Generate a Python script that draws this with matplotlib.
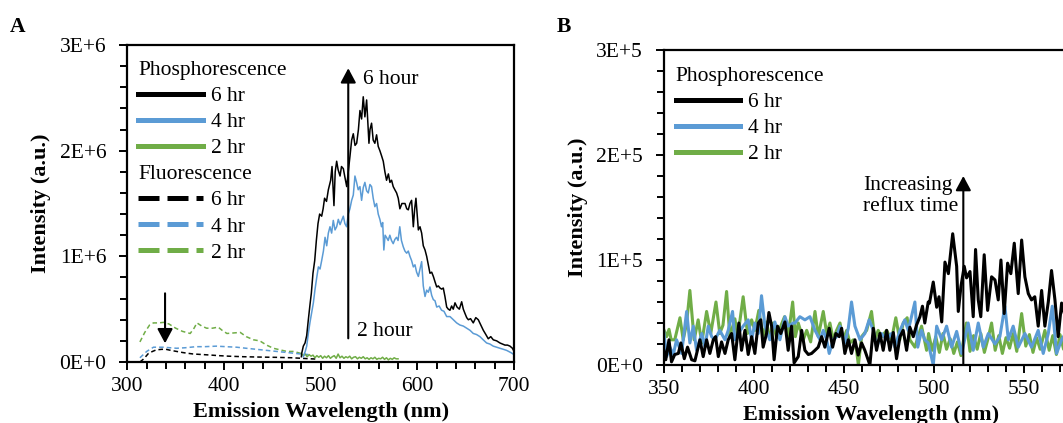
import matplotlib as mpl
mpl.use('Agg')
import matplotlib.pyplot as plt
from matplotlib.lines import Line2D
from matplotlib.ticker import MultipleLocator, FuncFormatter, FixedLocator

mpl.rcParams['font.family'] = 'Liberation Serif'
FS = 15.5

black = 'black'
blue = '#5B9BD5'
green = '#70AD47'

# ---------------- panel A: phosphorescence (solid) ----------------
a6_x = [480, 480.3, 482, 483.8, 485.5, 487.2, 489, 490.3, 492, 493.8, 495.5, 497.2, 498.9, 501, 502.5, 504, 506,
        507.9, 510.3, 511.7, 513.7, 515, 516.5, 518, 520, 521.5, 523.4, 525, 526.9, 528.5, 530.3, 532, 533.7, 535.5,
        537.2, 539, 540.6, 542.3, 544, 545.7, 547.5, 549.9, 551, 552.6, 554.3, 556, 557.8, 559.5, 561.2, 563, 564.7,
        566.4, 568.1, 570, 571.6, 573.3, 575, 576.7, 578.5, 580.2, 581.9, 584, 587.2, 589, 590.6, 592.3, 594, 595.8,
        597.2, 598.5, 601, 602.7, 604.4, 606.1, 607.9, 609.6, 611.3, 613, 614.8, 616.5, 618.2, 620, 621.7, 623.4,
        625.1, 626.8, 628.5, 630.3, 632, 633.7, 635.4, 637.1, 638.9, 641, 643.4, 645.8, 647.5, 649.2, 651, 652.7, 655,
        657.8, 660.4, 663, 665.6, 668.2, 670.8, 673.3, 675.9, 678.5, 682, 685.4, 688, 690.6, 693.2, 695.8, 698.3, 700]
a6_y = [0.05, 0.08, 0.15, 0.18, 0.25, 0.40, 0.55, 0.65, 0.84, 0.96, 1.15, 1.31, 1.40, 1.38, 1.45, 1.55, 1.52,
        1.63, 1.72, 1.85, 1.48, 1.80, 1.90, 1.82, 1.76, 1.85, 1.83, 1.75, 1.66, 1.80, 1.95, 2.10, 2.16, 2.05,
        2.07, 2.20, 2.38, 2.30, 2.51, 2.32, 2.48, 2.07, 2.20, 2.26, 2.10, 2.07, 2.15, 2.04, 2.00, 1.95, 1.90,
        1.80, 1.72, 1.78, 1.70, 1.72, 1.66, 1.63, 1.60, 1.55, 1.45, 1.50, 1.50, 1.45, 1.44, 1.50, 1.53, 1.28,
        1.45, 1.55, 1.25, 1.28, 1.22, 1.10, 1.06, 1.00, 0.92, 0.84, 0.85, 0.81, 0.76, 0.71, 0.72, 0.70,
        0.69, 0.70, 0.62, 0.52, 0.50, 0.49, 0.53, 0.50, 0.56, 0.52, 0.50, 0.57, 0.50, 0.46, 0.42, 0.40, 0.41,
        0.37, 0.42, 0.40, 0.35, 0.30, 0.26, 0.22, 0.24, 0.21, 0.20, 0.18, 0.17, 0.16, 0.16, 0.15, 0.13, 0.10]

a4_x = [482, 484, 485.5, 487.2, 489, 490.7, 492.4, 494, 495.9, 497.6, 499.3, 501, 502.8, 504.5, 506.2, 507.9, 509.6,
        511.3, 513, 514.8, 516.5, 518.2, 520, 521.7, 523.4, 525, 526.8, 528.5, 530.2, 532, 533.7, 535.4, 537.1,
        538.8, 540.6, 542.3, 544, 545.7, 547.5, 549.2, 550.9, 552.6, 554.3, 556, 557.8, 559.5, 561.2, 562.9, 564.1,
        565.3, 566.6, 568, 569.8, 571.5, 573.2, 575, 576.7, 578.4, 580, 581.8, 583.5, 585.4, 587.1, 588.9, 590.6,
        592.3, 594, 595.8, 597.5, 599.2, 601, 602.7, 604.4, 606.1, 607.9, 609.6, 611.3, 613, 614.8, 616.5, 618.2,
        620, 622.5, 625, 627.5, 630.3, 633.7, 637.2, 640.6, 644, 647.5, 651, 654.4, 657.8, 661.2, 664.7, 668.1,
        671.6, 675, 678.5, 682, 685.4, 689, 692.3, 696.5, 700]
a4_y = [0.05, 0.10, 0.15, 0.27, 0.38, 0.47, 0.56, 0.68, 0.80, 0.90, 0.88, 0.96, 1.05, 1.18, 1.10, 1.22, 1.28,
        1.22, 1.34, 1.25, 1.28, 1.35, 1.30, 1.34, 1.38, 1.31, 1.28, 1.40, 1.45, 1.53, 1.58, 1.76, 1.70,
        1.63, 1.66, 1.53, 1.65, 1.70, 1.62, 1.60, 1.68, 1.66, 1.55, 1.47, 1.50, 1.40, 1.35, 1.28, 1.32,
        1.06, 1.20, 1.18, 1.15, 1.20, 1.15, 1.12, 1.16, 1.18, 1.15, 1.28, 1.15, 1.09, 1.05, 1.03, 1.05,
        1.00, 0.96, 0.90, 0.92, 0.85, 0.81, 0.88, 0.95, 0.72, 0.62, 0.68, 0.66, 0.71, 0.63, 0.59, 0.58,
        0.52, 0.53, 0.49, 0.48, 0.43, 0.43, 0.40, 0.37, 0.35, 0.34, 0.32, 0.30, 0.27, 0.26, 0.24, 0.21,
        0.18, 0.17, 0.15, 0.14, 0.13, 0.12, 0.11, 0.09, 0.07]

a2_x = list(range(480, 582, 2))
a2_y = [0.08, 0.06, 0.075, 0.05, 0.07, 0.055, 0.065, 0.04, 0.06, 0.045, 0.06, 0.035, 0.055, 0.04, 0.06, 0.035,
        0.05, 0.06, 0.035, 0.075, 0.04, 0.055, 0.035, 0.05, 0.04, 0.055, 0.03, 0.045, 0.05, 0.03, 0.045, 0.035,
        0.05, 0.03, 0.04, 0.025, 0.04, 0.03, 0.045, 0.025, 0.035, 0.03, 0.045, 0.025, 0.04, 0.02, 0.035, 0.025,
        0.04, 0.03, 0.03]

# ---------------- panel A: fluorescence (dashed) ----------------
f6_x = [313, 317, 321.7, 326, 330, 335.6, 340, 345, 351, 357, 362, 368, 375, 385.5, 395, 405, 420, 435, 454.5,
        470, 480.3, 490, 496]
f6_y = [0.0, 0.03, 0.08, 0.10, 0.115, 0.12, 0.12, 0.11, 0.10, 0.09, 0.083, 0.076, 0.072, 0.066, 0.06, 0.055,
        0.05, 0.047, 0.044, 0.04, 0.035, 0.03, 0.028]
f4_x = [313, 320, 327, 337, 344, 351, 360, 371, 380, 392, 402, 413, 423, 433.6, 444, 454.5, 465, 475, 480, 488]
f4_y = [0.04, 0.10, 0.14, 0.14, 0.135, 0.13, 0.135, 0.145, 0.145, 0.15, 0.145, 0.14, 0.13, 0.12, 0.11, 0.10,
        0.09, 0.08, 0.075, 0.07]
f2_x = [313, 318, 323, 327, 332, 337.6, 343, 350, 357, 365, 369, 372, 377, 382, 388, 394, 398, 403, 410, 416.8,
        423, 430.5, 437, 444, 451, 458, 465, 472, 480]
f2_y = [0.19, 0.28, 0.35, 0.37, 0.37, 0.375, 0.36, 0.32, 0.29, 0.27, 0.32, 0.37, 0.34, 0.32, 0.32, 0.33, 0.30,
        0.27, 0.275, 0.28, 0.24, 0.21, 0.20, 0.16, 0.13, 0.115, 0.10, 0.10, 0.08]

# ---------------- panel B: phosphorescence, x1E4 ----------------
b6_x = [349.6, 351, 352.8, 354.2, 356, 358, 359.4, 361.3, 363.1, 365.4, 367.2, 370, 371.8, 373.7, 375.5, 377.4,
        378.7, 380.2, 382, 383.9, 385.7, 387.6, 389.4, 391.6, 393.1, 395, 396.8, 398.7, 400.5, 402.4, 403.8, 405.1,
        407, 408.3, 409.8, 411.2, 413.1, 414.9, 417.2, 419, 420.9, 422.3, 424.6, 426.5, 428.3, 430.2, 432, 433.9,
        435.7, 437.6, 439.4, 441.8, 443.7, 445.5, 447.4, 448.7, 450.5, 452.4, 454.2, 456.1, 457.9, 459.8, 461.6,
        464.4, 466.3, 468.1, 470, 471.8, 473.7, 475.5, 477.4, 479.2, 481.1, 482.9, 484.8, 486.6, 488.5, 490.3,
        492.2, 493.6, 494.9, 496.8, 497.5, 499.6, 501.5, 502.8, 504.3, 506.1, 508, 510.4, 512.6, 513.5, 515,
        516.8, 518.1, 520, 521.8, 523.1, 524.6, 526, 527.9, 529.8, 532, 533.9, 535.7, 537.2, 539, 540.9, 542.7,
        544.6, 546.8, 548.7, 550.5, 552.4, 554.2, 556, 557.9, 559.8, 561.6, 563.5, 565.3, 567.2, 569, 570.9,
        573, 575, 578]
b6_y = [1.7, 0.5, 2.4, 0.3, 1.0, 1.1, 2.1, 0.6, 1.7, 0.5, 0.4, 2.4, 0.8, 2.4, 1.1, 2.4,
        2.7, 0.8, 2.2, 1.1, 2.4, 3.0, 0.5, 4.0, 1.4, 3.3, 1.0, 2.7, 1.1, 4.0, 4.3, 1.7,
        3.0, 5.0, 3.7, 0.5, 3.7, 3.0, 4.1, 1.4, 3.7, 0.2, 0.8, 3.3, 1.4, 1.0, 1.1, 1.4,
        1.7, 2.7, 1.7, 3.5, 1.7, 3.0, 2.7, 3.5, 1.1, 2.4, 1.1, 2.4, 0.95, 2.1, 1.4,
        0.0, 3.5, 1.4, 3.0, 1.4, 3.3, 1.4, 3.1, 0.6, 2.7, 3.3, 1.4, 3.6, 2.7, 3.8,
        4.6, 5.6, 4.0, 6.0, 5.9, 7.9, 5.5, 6.5, 4.1, 9.8, 8.7, 12.5, 9.4, 5.1, 7.5,
        9.4, 8.3, 8.9, 4.6, 11.0, 6.2, 4.6, 10.5, 5.2, 8.4, 8.1, 6.2, 10.0, 4.9, 9.7, 8.7,
        11.6, 6.8, 11.9, 8.4, 6.8, 6.2, 6.5, 3.7, 7.1, 3.7, 6.0, 9.0, 6.2, 2.7, 5.9,
        4.5, 6.0, 5.0]

b4_x = [349.6, 351.5, 353.3, 355.2, 357, 359.8, 362.6, 364.4, 366.3, 368.1, 371, 372.8, 374.6, 376.5, 378.3, 381,
        383.9, 385.7, 388.1, 389.4, 391.3, 394, 396.8, 398.7, 400.5, 402.4, 404.2, 406.1, 408.8, 411.6, 414.4,
        417.2, 419, 421.8, 422.8, 425.5, 428.3, 431.1, 433.9, 436.7, 438.5, 440.4, 441.8, 444, 445.9, 447.8,
        450.5, 452.4, 454.2, 456.1, 458.9, 461.6, 464, 466.3, 468.1, 470.9, 473.7, 476.4, 478.3, 481.1, 483.8,
        485.7, 487.5, 489.4, 491, 493.1, 494.9, 496.8, 499.6, 501.5, 504.3, 507, 509.8, 512.6, 515.4, 519, 521.8,
        524.6, 527.4, 530.2, 533.9, 536.6, 539.4, 541.3, 544, 546.8, 550.5, 554.2, 557.9, 560.7, 563.5, 565.7,
        568.1, 570.9, 573, 576]
b4_y = [3.6, 0.8, 1.7, 1.0, 2.4, 1.1, 5.1, 2.1, 3.7, 1.4, 3.0, 1.7, 3.7, 2.7, 2.4, 3.3,
        2.4, 3.3, 5.1, 2.4, 3.0, 3.7, 4.3, 2.4, 4.0, 3.0, 6.6, 3.7, 2.4, 4.1, 2.4,
        4.6, 3.7, 4.0, 4.0, 4.6, 4.3, 4.6, 3.3, 2.4, 3.3, 2.4, 1.1, 2.4, 2.7, 3.7,
        2.1, 3.5, 6.0, 3.7, 2.4, 3.0, 4.3, 3.3, 1.7, 3.0, 2.4, 3.0, 1.7, 3.3, 4.3,
        3.3, 4.6, 6.0, 1.7, 3.3, 2.4, 2.1, 0.0, 3.7, 2.4, 3.7, 1.7, 3.2, 1.1, 4.0, 1.4,
        4.0, 1.7, 3.0, 2.0, 2.7, 5.6, 2.4, 3.7, 1.7, 3.0, 1.7, 3.3, 1.1, 3.0, 5.6,
        1.1, 2.4, 3.0, 1.5]

b2_x = [349.6, 351.5, 352.8, 354, 356, 358.9, 360.7, 362.6, 364.4, 366.8, 369, 371, 373.7, 376, 378.9, 381,
        382.8, 384.8, 386.6, 389.4, 391, 394, 396.4, 398.7, 400.5, 402.7, 405, 407, 408.8, 410.7, 412.5, 414.4,
        417, 419, 421.5, 423, 424.6, 427.4, 429.3, 431.5, 433.9, 435.7, 438.5, 440.4, 442.2, 444, 445.9, 447.8,
        449.6, 451.5, 453.3, 455.2, 457, 458, 459.8, 462.6, 465.3, 467.2, 469, 470.9, 473.7, 476.4, 478.8, 481,
        482.9, 485.1, 486.6, 489.4, 491.2, 493.1, 495.9, 497, 499, 501, 503, 505, 507, 509, 511, 513, 515, 518,
        520, 522, 524, 526, 528, 530, 532, 534, 536, 538, 540, 542, 544, 546, 548.7, 551, 553, 555, 557, 559,
        561.6, 564, 566, 568, 570, 572, 575, 578]
b2_y = [3.5, 2.7, 3.4, 2.4, 2.4, 4.5, 2.4, 4.0, 7.1, 2.4, 4.3, 2.1, 5.1, 3.0, 6.0, 3.0,
        3.8, 7.0, 2.7, 4.4, 2.7, 6.5, 3.0, 4.3, 3.3, 5.2, 2.7, 4.1, 2.5, 4.0, 2.6, 3.5,
        4.6, 2.7, 6.0, 2.7, 4.0, 2.4, 3.3, 2.2, 5.1, 2.7, 5.1, 3.0, 4.0, 2.4, 3.3, 4.0,
        2.4, 3.3, 2.1, 2.4, 1.4, 0.0, 2.7, 3.3, 5.1, 2.4, 3.3, 2.7, 3.3, 2.4, 4.5, 2.4,
        4.0, 4.5, 2.4, 1.7, 2.7, 3.7, 1.4, 3.0, 1.4, 2.7, 1.2, 3.0, 1.5, 2.5, 1.1, 2.2, 0.9, 4.0,
        1.3, 2.8, 1.5, 3.0, 1.2, 2.5, 4.0, 1.4, 2.8, 1.1, 2.6, 1.6, 3.0, 1.3, 4.9, 1.8, 2.9, 1.2, 2.6, 1.5,
        3.3, 1.4, 2.8, 1.0, 2.9, 1.5, 2.5, 1.5]


def sci(exp):
    def f(v, p):
        if abs(v) < 1e-9:
            return '0E+0'
        return '%dE+%d' % (round(v / 10 ** exp), exp)
    return FuncFormatter(f)


def style_axis(ax):
    for s in ax.spines.values():
        s.set_linewidth(1.6)
    ax.tick_params(which='both', direction='out', top=False, right=False, width=1.4, labelsize=FS)
    ax.tick_params(which='major', length=6)
    ax.tick_params(which='minor', length=5)
    ax.tick_params(axis='y', pad=9)
    ax.tick_params(axis='x', pad=5)


def header_legend(ax, handles, labels, headers, anchor):
    leg = ax.legend(handles, labels, loc='upper left', bbox_to_anchor=anchor, frameon=False, fontsize=FS,
                    handlelength=3.0, handletextpad=0.37, labelspacing=0.28, borderpad=0, borderaxespad=0)
    for vpack in leg._legend_handle_box.get_children():
        for hpack in vpack.get_children():
            area, txt = hpack.get_children()
            if txt.get_text() in headers:
                area.set_width(0)
                hpack.sep = 0
    return leg


fig = plt.figure(figsize=(10.63, 4.23), dpi=100)

# ---------------- A ----------------
ax1 = fig.add_axes([0.1198, 0.1442, 0.3638, 0.7494])
ax1.plot(f2_x, [v * 1e6 for v in f2_y], color=green, lw=1.1, ls=(0, (3, 2)))
ax1.plot(f4_x, [v * 1e6 for v in f4_y], color=blue, lw=1.1, ls=(0, (3, 2)))
ax1.plot(f6_x, [v * 1e6 for v in f6_y], color=black, lw=1.1, ls=(0, (3, 2)))
ax1.plot(a2_x, [v * 1e6 for v in a2_y], color=green, lw=1.1)
ax1.plot(a4_x, [v * 1e6 for v in a4_y], color=blue, lw=1.1)
ax1.plot(a6_x, [v * 1e6 for v in a6_y], color=black, lw=1.1)

ax1.set_xlim(300, 700)
ax1.set_ylim(0, 3e6)
ax1.xaxis.set_major_locator(FixedLocator([300, 400, 500, 600, 700]))
ax1.xaxis.set_minor_locator(MultipleLocator(20))
ax1.yaxis.set_major_locator(FixedLocator([0, 1e6, 2e6, 3e6]))
ax1.yaxis.set_minor_locator(MultipleLocator(2e5))
ax1.yaxis.set_major_formatter(sci(6))
style_axis(ax1)
ax1.set_xlabel('Emission Wavelength (nm)', fontsize=16, fontweight='bold', labelpad=4)
ax1.set_ylabel('Intensity (a.u.)', fontsize=16, fontweight='bold', labelpad=6)

arrow_kw = dict(arrowstyle='-|>,head_length=0.58,head_width=0.31', lw=1.5, color='black',
                shrinkA=0, shrinkB=0, mutation_scale=15)
ax1.annotate('', xy=(528.5, 2.78e6), xytext=(528.5, 0.224e6), arrowprops=arrow_kw)
ax1.annotate('', xy=(339, 0.177e6), xytext=(339, 0.65e6), arrowprops=arrow_kw)
ax1.text(544, 2.67e6, '6 hour', fontsize=FS, ha='left', va='center')
ax1.text(538, 0.287e6, '2 hour', fontsize=FS, ha='left', va='center')

blank = Line2D([], [], lw=0)
hA = [blank,
      Line2D([], [], color=black, lw=3.6), Line2D([], [], color=blue, lw=3.6), Line2D([], [], color=green, lw=3.6),
      blank,
      Line2D([], [], color=black, lw=3.6, ls=(0, (4.2, 1.6))),
      Line2D([], [], color=blue, lw=3.6, ls=(0, (4.2, 1.6))),
      Line2D([], [], color=green, lw=3.6, ls=(0, (4.2, 1.6)))]
lA = ['Phosphorescence', '6 hr', '4 hr', '2 hr', 'Fluorescence', '6 hr', '4 hr', '2 hr']
header_legend(ax1, hA, lA, ('Phosphorescence', 'Fluorescence'), (0.028, 0.953))

# ---------------- B ----------------
ax2 = fig.add_axes([0.6246, 0.1371, 0.3895, 0.7447])
ax2.plot(b2_x, [v * 1e4 for v in b2_y], color=green, lw=2.2)
ax2.plot(b4_x, [v * 1e4 for v in b4_y], color=blue, lw=2.2)
ax2.plot(b6_x, [v * 1e4 for v in b6_y], color=black, lw=2.2)

ax2.set_xlim(350, 580)
ax2.set_ylim(0, 3e5)
ax2.xaxis.set_major_locator(FixedLocator([350, 400, 450, 500, 550]))
ax2.xaxis.set_minor_locator(MultipleLocator(10))
ax2.yaxis.set_major_locator(FixedLocator([0, 1e5, 2e5, 3e5]))
ax2.yaxis.set_minor_locator(MultipleLocator(2e4))
ax2.yaxis.set_major_formatter(sci(5))
style_axis(ax2)
ax2.set_xlabel('Emission Wavelength (nm)', fontsize=16, fontweight='bold', labelpad=4)
ax2.set_ylabel('Intensity (a.u.)', fontsize=16, fontweight='bold', labelpad=6)

ax2.annotate('', xy=(516.3, 1.80e5), xytext=(516.3, 0.08e4), arrowprops=arrow_kw)
ax2.text(513.5, 1.61e5, 'Increasing\nreflux time', fontsize=FS, ha='right', va='center',
         multialignment='left', linespacing=1.2)

hB = [blank, Line2D([], [], color=black, lw=3.6), Line2D([], [], color=blue, lw=3.6),
      Line2D([], [], color=green, lw=3.6)]
lB = ['Phosphorescence', '6 hr', '4 hr', '2 hr']
header_legend(ax2, hB, lB, ('Phosphorescence',), (0.028, 0.949))

fig.text(18 / 1063, 1 - 27 / 423, 'A', fontsize=FS, fontweight='bold', ha='center', va='center')
fig.text(564 / 1063, 1 - 27 / 423, 'B', fontsize=FS, fontweight='bold', ha='center', va='center')

plt.savefig('out.png', dpi=100)
